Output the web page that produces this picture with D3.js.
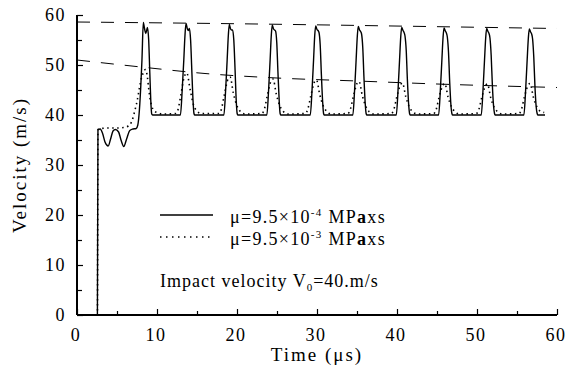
<!DOCTYPE html>
<html lang="en">
  <head>
    <meta charset="UTF-8" />
    <title>Velocity vs Time</title>
    <script src="https://d3js.org/d3.v7.min.js"></script>
    <style>
      body {
        margin: 0;
        background-color: #fff;
      }
      text {
        font-family: "Liberation Serif", "Times New Roman", serif;
        font-size: 18px;
        fill: #000;
      }
      .tick-label {
        letter-spacing: 1.5px;
      }
      .axis-title {
        letter-spacing: 2px;
        font-size: 19px;
      }
      .legend-text {
        letter-spacing: 1.3px;
      }
      .curve {
        fill: none;
        stroke: #000;
      }
    </style>
  </head>
  <body>
    <div class="chart"></div>

    <script>
      // tick values
      const xTicks = [0, 10, 20, 30, 40, 50, 60];
      const yTicks = [0, 10, 20, 30, 40, 50, 60];

      // mu = 9.5e-4 (solid line) : [time us, velocity m/s]
      const solidSeries = [
        [0, 0], [2.55, 0], [2.62, 37.1], [2.9, 37.2], [3.2, 36.3], [3.5, 34.6], [3.9, 33.8],
        [4.2, 35.2], [4.5, 36.8], [4.8, 37.1], [5.2, 36.6], [5.5, 35], [5.85, 33.7],
        [6.2, 35.2], [6.6, 36.9], [7.0, 37.2], [7.4, 37.3], [7.6, 38], [7.8, 41],
        [7.98, 46], [8.12, 51], [8.29, 58.5], [8.45, 57.2], [8.6, 56.3], [8.8, 57.5],
        [8.96, 55], [9.1, 48.5], [9.22, 43], [9.34, 40.2], [9.45, 40],
        [12.93, 40], [13.15, 45], [13.35, 51], [13.5, 56], [13.63, 58.3], [13.8, 57.2], [13.92, 56.9],
        [14.05, 57.3], [14.2, 55], [14.35, 49], [14.5, 43], [14.62, 40.3], [14.7, 40],
        [18.36, 40], [18.58, 45], [18.77, 51], [18.92, 56], [19.04, 58.1], [19.2, 57.2], [19.32, 57],
        [19.45, 57], [19.6, 55], [19.76, 49], [19.9, 43], [20.02, 40.3], [20.1, 40],
        [23.73, 40], [23.95, 45], [24.14, 51], [24.29, 56], [24.41, 58], [24.57, 57.2], [24.7, 57],
        [24.82, 56.8], [24.97, 54.5], [25.12, 48.5], [25.27, 43], [25.39, 40.3], [25.47, 40],
        [29.16, 40], [29.38, 45], [29.57, 51], [29.72, 56], [29.84, 57.8], [30.0, 57.1], [30.13, 56.9],
        [30.25, 56.5], [30.4, 54], [30.55, 48], [30.7, 42.8], [30.82, 40.3], [30.9, 40],
        [34.48, 40], [34.7, 45], [34.89, 51], [35.04, 55.8], [35.16, 57.7], [35.32, 57], [35.45, 56.7],
        [35.57, 56.2], [35.72, 53.5], [35.87, 47.5], [36.02, 42.5], [36.14, 40.3], [36.22, 40],
        [39.91, 40], [40.13, 45], [40.32, 51], [40.47, 55.7], [40.59, 57.5], [40.75, 56.9], [40.88, 56.5],
        [41.0, 55.8], [41.15, 53], [41.3, 47], [41.45, 42.3], [41.57, 40.3], [41.65, 40],
        [45.2, 40], [45.42, 45], [45.61, 51], [45.76, 55.6], [45.88, 57.4], [46.04, 56.8], [46.17, 56.4],
        [46.29, 55.6], [46.44, 52.5], [46.59, 46.5], [46.74, 42], [46.86, 40.3], [46.94, 40],
        [50.53, 40], [50.75, 45], [50.94, 51], [51.09, 55.5], [51.21, 57.3], [51.37, 56.7], [51.5, 56.3],
        [51.62, 55.4], [51.77, 52], [51.92, 46], [52.07, 41.8], [52.19, 40.3], [52.27, 40],
        [55.86, 40], [56.08, 45], [56.27, 51], [56.42, 55.4], [56.54, 57.2], [56.7, 56.6], [56.83, 56.2],
        [56.95, 55.2], [57.1, 51.5], [57.25, 45.5], [57.4, 41.6], [57.52, 40.3], [57.6, 40], [58.5, 40],
      ];

      // mu = 9.5e-3 (dotted line)
      const dottedSeries = [
        [0, 0], [2.55, 0], [2.62, 37], [3, 37.3], [4, 37.4], [5, 37.4], [5.8, 37.5],
        [6.41, 37.8], [6.84, 38.7], [7.25, 41], [7.54, 43], [7.79, 45.3], [8.04, 47.3],
        [8.37, 48.7], [8.54, 49.1], [8.79, 47.7], [8.96, 45.3], [9.13, 43.3], [9.46, 41.3],
        [9.96, 40.5], [10.75, 40.2],
        [12.33, 40.3], [12.63, 41.1], [12.98, 44], [13.4, 47.6], [13.73, 48.4], [14.13, 45.2], [14.53, 42.2], [14.93, 40.9], [15.53, 40.3],
        [17.74, 40.3], [18.04, 41.1], [18.41, 44], [18.91, 47.3], [19.14, 47.6], [19.54, 44.4], [19.96, 42], [20.37, 40.8], [21.0, 40.2],
        [23.11, 40.3], [23.41, 41.1], [23.78, 43.8], [24.28, 46.9], [24.51, 47.2], [24.91, 44.2], [25.33, 41.9], [25.74, 40.8], [26.37, 40.2],
        [28.54, 40.3], [28.84, 41.1], [29.21, 43.7], [29.71, 46.7], [29.94, 47], [30.34, 44.1], [30.76, 41.9], [31.17, 40.8], [31.8, 40.2],
        [33.86, 40.3], [34.16, 41.1], [34.53, 43.6], [35.03, 46.4], [35.26, 46.7], [35.66, 43.9], [36.08, 41.8], [36.49, 40.7], [37.12, 40.2],
        [39.29, 40.3], [39.59, 41], [39.96, 43.5], [40.46, 46.1], [40.69, 46.4], [41.09, 43.7], [41.51, 41.7], [41.92, 40.7], [42.55, 40.2],
        [44.58, 40.3], [44.88, 41], [45.25, 43.5], [45.75, 46], [45.98, 46.3], [46.38, 43.6], [46.8, 41.7], [47.21, 40.7], [47.84, 40.2],
        [49.91, 40.3], [50.21, 41], [50.58, 43.4], [51.08, 45.9], [51.31, 46.2], [51.71, 43.5], [52.13, 41.6], [52.54, 40.7], [53.17, 40.2],
        [55.24, 40.3], [55.54, 41], [55.91, 43.5], [56.41, 46], [56.64, 46.3], [57.04, 43.6], [57.46, 41.7], [57.87, 40.8], [58.4, 40.5],
      ];

      // dashed envelopes
      const upperEnvelope = [[0, 58.6], [22.5, 58.2], [43.7, 57.7], [60, 57.3]];
      const lowerEnvelope = [[0, 51], [8, 49.6], [16, 48.3], [25, 47.4], [35, 46.8], [45, 46.2], [60, 45.5]];

      const margin = { top: 15, right: 10, bottom: 55, left: 77 },
        width = 567 - margin.left - margin.right,
        height = 370 - margin.top - margin.bottom;

      const svg = d3
        .select(".chart")
        .append("svg")
        .attr("width", width + margin.left + margin.right)
        .attr("height", height + margin.top + margin.bottom)
        .append("g")
        .attr("transform", `translate(${margin.left},${margin.top})`);

      const x = d3.scaleLinear().domain([0, 60]).range([0, width]);
      const y = d3.scaleLinear().domain([0, 60]).range([height, 0]);

      const line = d3
        .line()
        .x((d) => x(d[0]))
        .y((d) => y(d[1]))
        .curve(d3.curveMonotoneX);

      // dashed envelope lines
      [upperEnvelope, lowerEnvelope].forEach((env) => {
        svg
          .append("path")
          .attr("class", "curve")
          .attr("d", line(env))
          .attr("stroke-width", 1)
          .attr("stroke-dasharray", "13,11");
      });

      svg
        .append("path")
        .attr("class", "curve")
        .attr("d", line(dottedSeries))
        .attr("stroke-width", 1.6)
        .attr("stroke-dasharray", "1.5,3.5");

      svg
        .append("path")
        .attr("class", "curve")
        .attr("d", line(solidSeries))
        .attr("stroke-width", 1.4);

      // axes, ticks pointing inward
      const xAxis = svg
        .append("g")
        .attr("transform", `translate(0,${height})`)
        .call(
          d3.axisTop(x).tickValues(d3.range(0, 61, 5)).tickSize(6).tickFormat("")
        );
      xAxis.selectAll(".tick line").attr("y2", (d) => (d % 10 ? -4 : -6));

      const yAxis = svg
        .append("g")
        .call(
          d3.axisRight(y).tickValues(d3.range(0, 61, 5)).tickSize(6).tickFormat("")
        );
      yAxis.selectAll(".tick line").attr("x2", (d) => (d % 10 ? 5 : 6));

      svg.selectAll(".domain").attr("stroke-width", 2).attr("d", null);
      xAxis.select(".domain").attr("d", `M0,0H${width}`);
      yAxis.select(".domain").attr("d", `M0,${height}V0`);
      svg.selectAll(".tick line").attr("stroke-width", 1.2);

      svg
        .selectAll(".xlabel")
        .data(xTicks)
        .enter()
        .append("text")
        .attr("class", "tick-label")
        .attr("x", (d) => x(d) - 1)
        .attr("y", height + 26)
        .attr("text-anchor", "middle")
        .text((d) => d);

      svg
        .selectAll(".ylabel")
        .data(yTicks)
        .enter()
        .append("text")
        .attr("class", "tick-label")
        .attr("x", -11)
        .attr("y", (d) => y(d) + 6)
        .attr("text-anchor", "end")
        .text((d) => d);

      svg
        .append("text")
        .attr("class", "axis-title")
        .attr("x", width / 2)
        .attr("y", height + 46)
        .attr("text-anchor", "middle")
        .text("Time (μs)");

      svg
        .append("text")
        .attr("class", "axis-title")
        .attr("transform", "rotate(-90)")
        .attr("x", -(y(0) - 150))
        .attr("y", -51)
        .attr("text-anchor", "middle")
        .text("Velocity (m/s)");

      // legend
      const legendItems = [
        { exp: "-4", dash: null },
        { exp: "-3", dash: "1.5,4.5" },
      ];
      const legend = svg
        .selectAll(".legend")
        .data(legendItems)
        .enter()
        .append("g")
        .attr("class", "legend")
        .attr("transform", (d, i) => `translate(83,${200 + i * 22})`);

      legend
        .append("line")
        .attr("x1", 0)
        .attr("x2", 53)
        .attr("stroke", "#000")
        .attr("stroke-width", (d) => (d.dash ? 1.6 : 1.4))
        .attr("stroke-dasharray", (d) => d.dash);

      const lt = legend
        .append("text")
        .attr("class", "legend-text")
        .attr("x", 70)
        .attr("y", 8);
      lt.append("tspan").text("μ=9.5×10");
      lt.append("tspan")
        .attr("dy", -7)
        .style("font-size", "11px")
        .text((d) => d.exp);
      lt.append("tspan").attr("dy", 7).text(" MP");
      lt.append("tspan").style("font-weight", "bold").text("a");
      lt.append("tspan").text("xs");

      const impact = svg
        .append("text")
        .attr("class", "legend-text")
        .attr("x", 83)
        .attr("y", 272)
        .style("letter-spacing", "1px");
      impact.append("tspan").text("Impact velocity V");
      impact
        .append("tspan")
        .attr("dy", 4)
        .style("font-size", "11px")
        .text("0");
      impact.append("tspan").attr("dy", -4).text("=40.m/s");
    </script>
  </body>
</html>
